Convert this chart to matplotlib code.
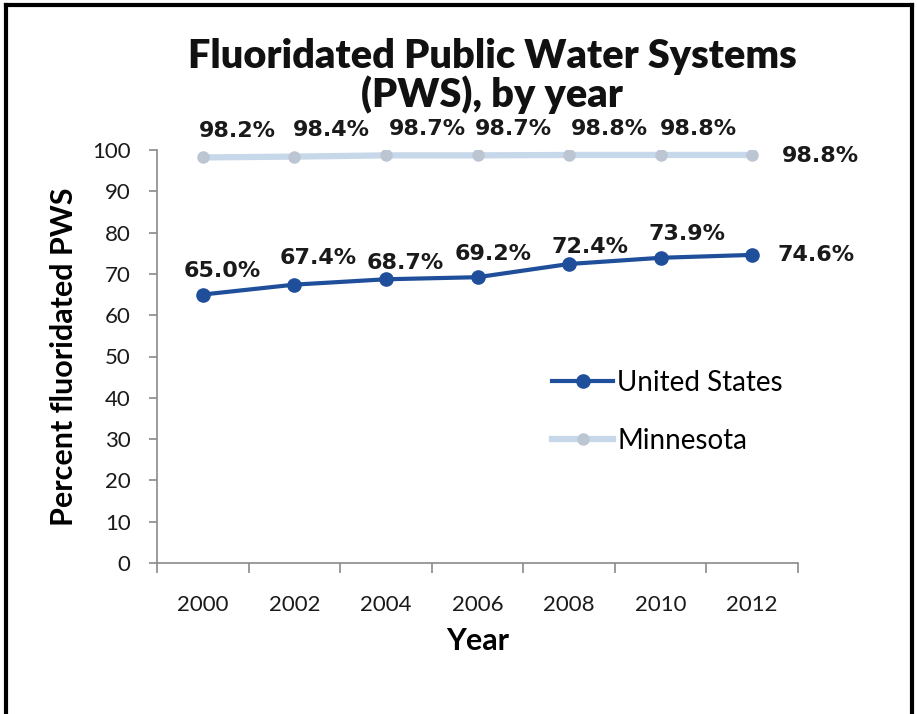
import matplotlib
matplotlib.use("Agg")
import matplotlib.pyplot as plt
from matplotlib.lines import Line2D
import numpy as np

years = ["2000", "2002", "2004", "2006", "2008", "2010", "2012"]
us_values = [65.0, 67.4, 68.7, 69.2, 72.4, 73.9, 74.6]
mn_values = [98.2, 98.4, 98.7, 98.7, 98.8, 98.8, 98.8]
y_ticks = [0, 10, 20, 30, 40, 50, 60, 70, 80, 90, 100]

# label offsets in points (dx, dy) relative to each marker
us_offsets = [(14, 17), (17, 19), (14, 12), (11, 17), (15, 12), (19, 17), (46, 0)]
mn_offsets = [(25, 19), (27, 19), (30, 19), (26, 19), (29, 19), (27, 19), (49, -1)]

US_COLOR = "#1f4e9a"
MN_LINE = "#c6d8ea"
MN_MARK = "#bcc6d2"

fig = plt.figure(figsize=(9.17, 7.14), dpi=100)
ax = fig.add_axes([157 / 917, 1 - 563 / 714, (798 - 157) / 917, (563 - 150) / 714])

x = np.arange(len(years))
ax.plot(x, mn_values, color=MN_LINE, lw=4.5, marker="o", ms=8,
        mfc=MN_MARK, mec=MN_MARK, label="Minnesota", zorder=2)
ax.plot(x, us_values, color=US_COLOR, lw=3, marker="o", ms=9.5,
        mfc=US_COLOR, mec=US_COLOR, label="United States", zorder=3)

lab_font = dict(family="DejaVu Sans", weight="bold", size=16, color="#1a1a1a")
for xi, v, (dx, dy) in zip(x, us_values, us_offsets):
    ax.annotate(f"{v:.1f}%", (xi, v), xytext=(dx, dy), textcoords="offset points",
                ha="center", va="center", **lab_font)
for xi, v, (dx, dy) in zip(x, mn_values, mn_offsets):
    ax.annotate(f"{v:.1f}%", (xi, v), xytext=(dx, dy), textcoords="offset points",
                ha="center", va="center", annotation_clip=False, **lab_font)

ax.set_xlim(-0.5, len(years) - 0.5)
ax.set_ylim(0, 100)
ax.set_yticks(y_ticks)
ax.set_xticks(x)
ax.set_xticklabels(years)
ax.set_xticks(np.arange(-0.5, len(years), 1), minor=True)

for s in ("top", "right"):
    ax.spines[s].set_visible(False)
for s in ("left", "bottom"):
    ax.spines[s].set_color("#8a8a8a")
    ax.spines[s].set_linewidth(1.2)

ax.tick_params(axis="x", which="major", length=0, pad=23, labelsize=16,
               labelcolor="#1a1a1a")
ax.tick_params(axis="x", which="minor", length=7, width=1.2, color="#8a8a8a",
               direction="out")
ax.tick_params(axis="y", length=6, width=1.2, color="#8a8a8a", pad=13,
               labelsize=16, labelcolor="#1a1a1a")
for t in ax.get_xticklabels() + ax.get_yticklabels():
    t.set_family("Lato")

ax.set_xlabel("Year", family="Lato", weight="bold", size=22, labelpad=9)
ax.set_ylabel("Percent fluoridated PWS", family="Lato", weight="bold", size=22,
              labelpad=10)

fig.text(492 / 917, 1 - 76 / 714, "Fluoridated Public Water Systems\n(PWS), by year",
         ha="center", va="center", family="Lato", weight="heavy", size=28.5,
         linespacing=1.02, color="#111111")

handles, labels = ax.get_legend_handles_labels()
ax.legend(handles[::-1], labels[::-1], loc="upper left",
          bbox_to_anchor=(527 / 917, 1 - 345 / 714), bbox_transform=fig.transFigure,
          frameon=False, prop=dict(family="Lato", size=20), handlelength=2.2,
          handletextpad=0.15, labelspacing=1.15)

# outer frame
fig.add_artist(Line2D([6 / 917, 6 / 917], [0, 1 - 5 / 714], transform=fig.transFigure,
                      color="black", lw=3))
fig.add_artist(Line2D([6 / 917, 912 / 917], [1 - 5 / 714, 1 - 5 / 714],
                      transform=fig.transFigure, color="black", lw=3))
fig.add_artist(Line2D([912 / 917, 912 / 917], [0, 1 - 5 / 714], transform=fig.transFigure,
                      color="black", lw=3))

fig.savefig("out.png", dpi=100)
